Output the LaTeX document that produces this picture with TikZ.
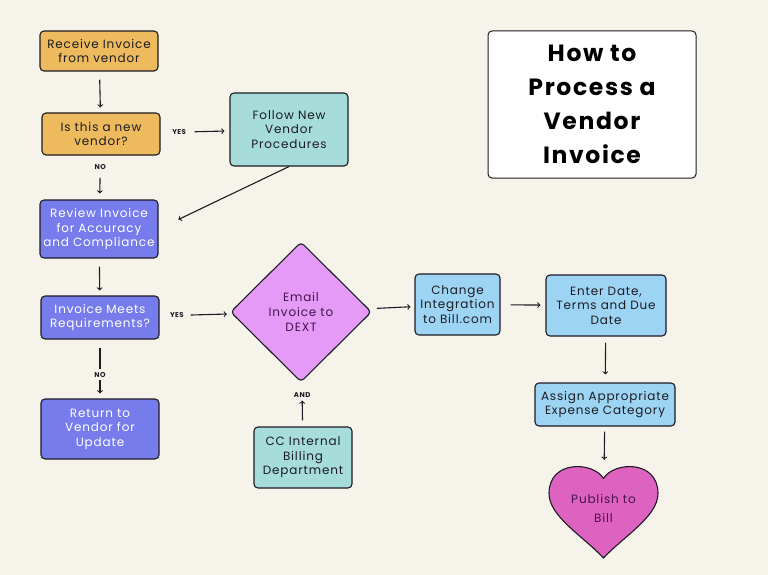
\documentclass[tikz,border=0pt]{standalone}
\usepackage{fontspec}
\setmainfont{Poppins}[LetterSpace=7]
\usetikzlibrary{shapes.geometric, arrows, positioning}

\definecolor{paper}{HTML}{F6F3EB}
\definecolor{ink}{HTML}{1C1B22}
\definecolor{orangefill}{HTML}{EDBB5E}
\definecolor{tealfill}{HTML}{A6DCD9}
\definecolor{purplefill}{HTML}{777CEC}
\definecolor{violetfill}{HTML}{E49AF6}
\definecolor{violetink}{HTML}{45134E}
\definecolor{bluefill}{HTML}{9DD4F3}
\definecolor{pinkfill}{HTML}{DE62C0}

\begin{document}
\begin{tikzpicture}[x=1pt, y=-1pt]
    \tikzstyle{box} = [draw=ink, rectangle, rounded corners=4pt, line width=1.1pt, align=center, inner sep=1pt, font=\fontsize{12}{14.5}\selectfont]
    \tikzstyle{orangebox} = [box, fill=orangefill, text=ink, minimum width=118pt]
    \tikzstyle{tealbox} = [box, fill=tealfill, text=ink]
    \tikzstyle{purplebox} = [box, fill=purplefill, text=white, minimum width=118pt]
    \tikzstyle{bluebox} = [box, fill=bluefill, text=ink]
    \tikzstyle{decision} = [draw=ink, diamond, aspect=1, rounded corners=4pt, line width=1.1pt, fill=violetfill, text=violetink, align=center, inner sep=0pt, minimum width=141pt, minimum height=140pt, font=\fontsize{12}{15}\selectfont]
    \tikzstyle{heartshape} = [draw=ink, line width=1.1pt, fill=pinkfill, line join=round]
    \tikzstyle{titlebox} = [draw=ink, rectangle, rounded corners=4pt, line width=1pt, fill=white, align=center, minimum width=208pt, minimum height=147pt, font=\fontsize{23.5}{34}\bfseries]
    \tikzstyle{tag} = [font=\fontsize{7}{8}\bfseries, text=ink, inner sep=1pt]
    \tikzstyle{line} = [draw=ink, ->, line width=1.1pt, shorten <=8pt, shorten >=5pt]

    \fill [paper] (0,0) rectangle (768,575);
    \useasboundingbox (0,0) rectangle (768,575);

    \node [titlebox] (title) at (592,104.5) {How to\\Process a\\Vendor\\Invoice};

    % left column
    \node [orangebox, minimum height=40pt] (receive) at (99,51) {Receive Invoice\\from vendor};
    \node [orangebox, minimum height=42pt] (newvendor) at (101,134) {Is this a new\\vendor?};
    \node [tealbox, minimum width=118pt, minimum height=73pt] (procedures) at (289,129.5) {Follow New\\Vendor\\Procedures};
    \node [purplebox, minimum height=58pt] (review) at (99,229) {Review Invoice\\for Accuracy\\and Compliance};
    \node [purplebox, minimum height=43pt] (meets) at (100,317.5) {Invoice Meets\\Requirements?};
    \node [purplebox, minimum height=60pt] (return) at (100,429) {Return to\\Vendor for\\Update};

    % middle and right
    \node [decision] (email) at (301,312) {Email\\Invoice to\\DEXT};
    \node [tealbox, minimum width=98pt, minimum height=61pt] (cc) at (303,457.5) {CC Internal\\Billing\\Department};
    \node [bluebox, minimum width=85pt, minimum height=61pt] (integration) at (457.5,304.5) {Change\\Integration\\to Bill.com};
    \node [bluebox, minimum width=120pt, minimum height=61pt] (terms) at (606,305.5) {Enter Date,\\Terms and Due\\Date};
    \node [bluebox, minimum width=140pt, minimum height=43pt] (category) at (605,404.5) {Assign Appropriate\\Expense Category};

    \coordinate (heartc) at (603.5,511.5);
    \draw [heartshape, shift={(heartc)}] (0,-33) .. controls (10,-50) and (54.5,-52) .. (54.5,-18)
        .. controls (54.5,5) and (20,25) .. (0,46.5)
        .. controls (-20,25) and (-54.5,5) .. (-54.5,-18)
        .. controls (-54.5,-52) and (-10,-50) .. (0,-33) -- cycle;
    \node [align=center, text=violetink, minimum width=109pt, minimum height=93pt, yshift=3pt, font=\fontsize{12}{19}\selectfont] (publish) at (heartc) {Publish to\\Bill};

    \draw [line] (receive) -- (newvendor);
    \draw [line, shorten <=34pt] (newvendor) -- node [tag, pos=0.27] {YES} (procedures);
    \draw [line, shorten <=22pt, shorten >=6pt] (newvendor) -- node [tag, pos=0.27] {NO} (review);
    \draw [line, shorten <=0pt, shorten >=22pt] (procedures.south) -- (review.east);
    \draw [line] (review) -- (meets);
    \draw [line, shorten <=31pt] (meets) -- node [tag, pos=0.24] {YES} (email);
    \draw [line] (meets) -- node [tag, pos=0.6, fill=paper, inner sep=3pt] {NO} (return);
    \draw [line, shorten <=6pt, shorten >=19pt] (cc) -- node [tag, pos=0.71] {AND} (email);
    \draw [line, shorten >=4pt] (email) -- (integration);
    \draw [line, shorten <=10pt] (integration) -- (terms);
    \draw [line, shorten <=6pt, shorten >=8pt] (terms) -- (category);
    \draw [line, shorten <=5pt, shorten >=2pt] (category) -- (publish);
\end{tikzpicture}
\end{document}
